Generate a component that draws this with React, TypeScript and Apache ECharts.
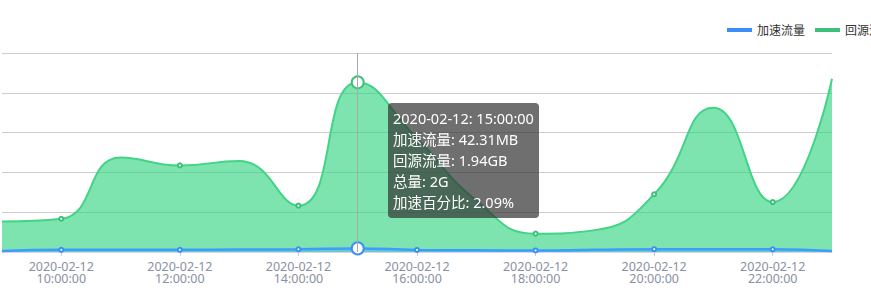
import React, { useEffect, useRef } from 'react';
import * as echarts from 'echarts';

// Hourly samples for 2020-02-12
const times = [
  '2020-02-12 09:00:00', '2020-02-12 10:00:00', '2020-02-12 11:00:00',
  '2020-02-12 12:00:00', '2020-02-12 13:00:00', '2020-02-12 14:00:00',
  '2020-02-12 15:00:00', '2020-02-12 16:00:00', '2020-02-12 17:00:00',
  '2020-02-12 18:00:00', '2020-02-12 19:00:00', '2020-02-12 20:00:00',
  '2020-02-12 21:00:00', '2020-02-12 22:00:00', '2020-02-12 23:00:00',
];
// 加速流量 in MB
const accelMB = [12, 26, 27, 26, 29, 32, 42.31, 24, 20, 18, 26, 33, 32, 31, 12];
// 回源流量 in GB
const originGB = [0.35, 0.38, 1.08, 0.99, 1.04, 0.53, 1.94, 1.3, 0.59, 0.21, 0.25, 0.66, 1.65, 0.57, 1.98];
const seriesNames = ['加速流量', '回源流量'];

const FONT = "'Microsoft YaHei', 'Noto Sans', 'Noto Sans CJK SC', sans-serif";
const BLUE = '#3a8ef6';
const GREEN = '#3cc07a';

export default function App() {
  const ref = useRef<HTMLDivElement>(null);

  useEffect(() => {
    document.body.style.margin = '0';
    if (!ref.current) return;
    const chart = echarts.init(ref.current, null, { renderer: 'svg' });
    const oddOnly = (i: number) => i % 2 === 1;

    chart.setOption({
      animation: false,
      textStyle: { fontFamily: FONT },
      legend: {
        data: seriesNames,
        left: 722,
        top: 19,
        width: 400,
        icon: 'rect',
        itemWidth: 25,
        itemHeight: 4,
        itemGap: 10,
        textStyle: { color: '#333', fontSize: 12, fontFamily: FONT },
      },
      grid: { left: 2, right: 39, top: 53, bottom: 41 },
      tooltip: {
        trigger: 'axis',
        alwaysShowContent: true,
        position: [388, 103],
        backgroundColor: 'rgba(50,50,50,0.7)',
        borderWidth: 0,
        padding: 5,
        textStyle: { color: '#fff', fontSize: 14.5, lineHeight: 21, fontFamily: FONT },
        extraCssText: 'box-shadow:none;border-radius:4px;line-height:21px;',
        axisPointer: { type: 'line', lineStyle: { color: '#aaa', width: 1, type: 'solid' } },
        formatter: (params: any) => {
          const i = params[0].dataIndex;
          const totalMB = originGB[i] * 1024 + accelMB[i];
          const pct = ((accelMB[i] / totalMB) * 100).toFixed(2);
          return [
            times[i].replace(' ', ': '),
            `${seriesNames[0]}: ${accelMB[i].toFixed(2)}MB`,
            `${seriesNames[1]}: ${originGB[i].toFixed(2)}GB`,
            `总量: ${Math.round(totalMB / 1024)}G`,
            `加速百分比: ${pct}%`,
          ].join('<br/>');
        },
      },
      xAxis: {
        type: 'category',
        boundaryGap: false,
        data: times,
        axisLine: { lineStyle: { color: '#d3d7de' } },
        axisTick: { interval: oddOnly, length: 4, lineStyle: { color: '#c8ccd4' } },
        axisLabel: {
          interval: oddOnly,
          color: '#8a90a2',
          fontSize: 12.5,
          lineHeight: 12,
          fontFamily: FONT,
          formatter: (v: string) => v.replace(' ', '\n'),
        },
      },
      yAxis: {
        type: 'value',
        min: 0,
        max: 2.275,
        interval: 0.455,
        axisLabel: { show: false },
        axisLine: { show: false },
        axisTick: { show: false },
        splitLine: { lineStyle: { color: '#cccccc' } },
      },
      series: [
        {
          name: seriesNames[0],
          type: 'line',
          smooth: true,
          z: 3,
          data: accelMB.map((v) => v / 1024),
          symbol: 'emptyCircle',
          symbolSize: 4,
          showAllSymbol: false,
          itemStyle: { color: BLUE },
          lineStyle: { color: BLUE, width: 2.5 },
          areaStyle: { color: BLUE, opacity: 0.35 },
          emphasis: { scale: 3, focus: 'none', lineStyle: { width: 2.5 } },
        },
        {
          name: seriesNames[1],
          type: 'line',
          smooth: true,
          z: 2,
          data: originGB,
          symbol: 'emptyCircle',
          symbolSize: 4,
          showAllSymbol: false,
          itemStyle: { color: GREEN },
          lineStyle: { color: GREEN, width: 2 },
          areaStyle: { color: '#2dc175', opacity: 0.63 },
          emphasis: { scale: 3, focus: 'none', lineStyle: { width: 2 } },
        },
      ],
    });

    chart.dispatchAction({ type: 'showTip', seriesIndex: 1, dataIndex: 6 });

    return () => chart.dispose();
  }, []);

  return <div ref={ref} style={{ width: 871, height: 293, background: '#fff' }} />;
}
